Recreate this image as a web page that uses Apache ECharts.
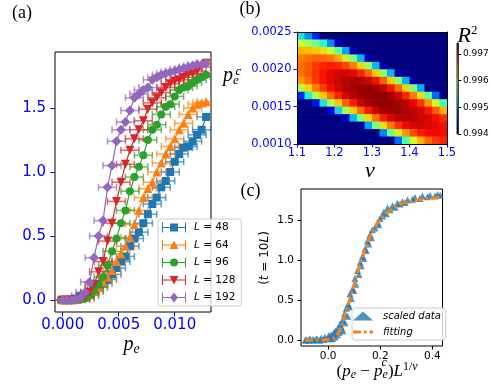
<!DOCTYPE html>
<html>
<head>
<meta charset="utf-8">
<script src="https://cdn.jsdelivr.net/npm/echarts@6/dist/echarts.min.js"></script>
<style>
  html, body { margin: 0; padding: 0; background: #fff; }
  #main { width: 491px; height: 384px; }
</style>
</head>
<body>
<div id="main"></div>
<script>
// ---- panel (a): order parameter vs p_e for several L ----
var peVals = [0, 0.0004, 0.0008, 0.0012, 0.0016, 0.002, 0.0024, 0.0028, 0.0032, 0.0036, 0.004,
  0.0044, 0.0048, 0.0052, 0.0056, 0.006, 0.0064, 0.0068, 0.0072, 0.0076, 0.008, 0.0084, 0.0088,
  0.0092, 0.0096, 0.01, 0.0104, 0.0108, 0.0112, 0.0116, 0.012, 0.0124, 0.0128];
var sizes = ['48', '64', '96', '128', '192'];
var valsL48 = [0, 0, 0.003, 0.01, 0.03, 0.04, 0.06, 0.08, 0.1, 0.13, 0.16, 0.2, 0.25, 0.3, 0.34, 0.42,
  0.48, 0.53, 0.6, 0.67, 0.75, 0.8, 0.88, 0.93, 1.0, 1.08, 1.14, 1.19, 1.2, 1.24, 1.29, 1.33, 1.43];
var valsL64 = [0, 0, 0, 0.003, 0.01, 0.02, 0.04, 0.07, 0.1, 0.14, 0.18, 0.23, 0.3, 0.36, 0.42, 0.49,
  0.59, 0.7, 0.8, 0.87, 0.92, 1.0, 1.07, 1.14, 1.2, 1.26, 1.33, 1.38, 1.45, 1.5, 1.53, 1.54, 1.55];
var valsL96 = [0, 0, 0, 0.002, 0.005, 0.013, 0.035, 0.07, 0.12, 0.18, 0.27, 0.38, 0.48, 0.6, 0.7, 0.85,
  0.96, 1.04, 1.13, 1.25, 1.33, 1.37, 1.45, 1.51, 1.53, 1.59, 1.64, 1.66, 1.67, 1.7, 1.72, 1.74, 1.76];
var valsL128 = [0, 0, 0, 0.003, 0.01, 0.03, 0.06, 0.12, 0.22, 0.3, 0.46, 0.6, 0.77, 0.92, 1.06, 1.17,
  1.26, 1.33, 1.4, 1.49, 1.54, 1.58, 1.62, 1.66, 1.69, 1.71, 1.72, 1.74, 1.76, 1.77, 1.79, 1.82, 1.85];
var valsL192 = [0, 0, 0, 0.005, 0.02, 0.06, 0.14, 0.33, 0.5, 0.62, 0.88, 1.05, 1.24, 1.33, 1.39, 1.48,
  1.58, 1.61, 1.64, 1.66, 1.72, 1.74, 1.76, 1.77, 1.78, 1.79, 1.8, 1.81, 1.82, 1.83, 1.84, 1.84, 1.85];
var xErr = 0.0008;

// ---- panel (b): R^2 over (nu, p_e^c) ----
var nuVals = [1.11, 1.13, 1.15, 1.17, 1.19, 1.21, 1.23, 1.25, 1.27, 1.29, 1.31, 1.33, 1.35, 1.37, 1.39,
  1.41, 1.43, 1.45, 1.47, 1.49];
var pcVals = [0.00245, 0.00235, 0.00225, 0.00215, 0.00205, 0.00195, 0.00185, 0.00175, 0.00165,
  0.00155, 0.00145, 0.00135, 0.00125, 0.00115, 0.00105];
var r2Grid = [
  [0.99523, 0.99491, 0.99449, 0.9939, 0.9935, 0.9935, 0.9935, 0.9935, 0.9935, 0.9935, 0.9935, 0.9935, 0.9935, 0.9935, 0.9935, 0.9935, 0.9935, 0.9935, 0.9935, 0.9935],
  [0.996, 0.99586, 0.99565, 0.99535, 0.9949, 0.99413, 0.9935, 0.9935, 0.9935, 0.9935, 0.9935, 0.9935, 0.9935, 0.9935, 0.9935, 0.9935, 0.9935, 0.9935, 0.9935, 0.9935],
  [0.99644, 0.99642, 0.99637, 0.99624, 0.99602, 0.99559, 0.99497, 0.99414, 0.9935, 0.9935, 0.9935, 0.9935, 0.9935, 0.9935, 0.9935, 0.9935, 0.9935, 0.9935, 0.9935, 0.9935],
  [0.99664, 0.9967, 0.99675, 0.99674, 0.99668, 0.99649, 0.99617, 0.9957, 0.99503, 0.99413, 0.9935, 0.9935, 0.9935, 0.9935, 0.9935, 0.9935, 0.9935, 0.9935, 0.9935, 0.9935],
  [0.9967, 0.99679, 0.99689, 0.99697, 0.997, 0.99697, 0.99685, 0.99664, 0.99629, 0.99578, 0.99506, 0.99413, 0.9935, 0.9935, 0.9935, 0.9935, 0.9935, 0.9935, 0.9935, 0.9935],
  [0.9967, 0.9968, 0.99692, 0.99703, 0.99711, 0.99717, 0.99717, 0.99711, 0.99698, 0.99674, 0.99634, 0.99579, 0.99505, 0.99412, 0.9935, 0.9935, 0.9935, 0.9935, 0.9935, 0.9935],
  [0.99654, 0.99672, 0.99689, 0.99702, 0.99712, 0.9972, 0.99726, 0.99728, 0.99727, 0.9972, 0.99704, 0.99676, 0.99634, 0.99576, 0.99502, 0.99411, 0.9935, 0.9935, 0.9935, 0.9935],
  [0.99592, 0.99632, 0.99664, 0.99689, 0.99706, 0.99718, 0.99726, 0.9973, 0.99734, 0.99735, 0.99731, 0.99722, 0.99702, 0.99672, 0.99629, 0.99573, 0.995, 0.9935, 0.9935, 0.9935],
  [0.99453, 0.9953, 0.9959, 0.99638, 0.99672, 0.99698, 0.99716, 0.99726, 0.99733, 0.99736, 0.99737, 0.99736, 0.9973, 0.99717, 0.99696, 0.99666, 0.99624, 0.99558, 0.99477, 0.9935],
  [0.9935, 0.9935, 0.99442, 0.99524, 0.99588, 0.99637, 0.99675, 0.997, 0.99719, 0.9973, 0.99735, 0.99737, 0.99735, 0.99731, 0.99723, 0.9971, 0.9969, 0.99655, 0.99609, 0.99546],
  [0.9935, 0.9935, 0.9935, 0.9935, 0.99431, 0.99516, 0.99583, 0.99634, 0.99673, 0.997, 0.99719, 0.9973, 0.99733, 0.99732, 0.99728, 0.99723, 0.99715, 0.99701, 0.99679, 0.99645],
  [0.9935, 0.9935, 0.9935, 0.9935, 0.9935, 0.9935, 0.9942, 0.99506, 0.99575, 0.99628, 0.9967, 0.99699, 0.99716, 0.99725, 0.99726, 0.99724, 0.9972, 0.99714, 0.99705, 0.99691],
  [0.9935, 0.9935, 0.9935, 0.9935, 0.9935, 0.9935, 0.9935, 0.9935, 0.99408, 0.99496, 0.99568, 0.99624, 0.99665, 0.99692, 0.99708, 0.99716, 0.99718, 0.99715, 0.9971, 0.99704],
  [0.9935, 0.9935, 0.9935, 0.9935, 0.9935, 0.9935, 0.9935, 0.9935, 0.9935, 0.9935, 0.9939, 0.99487, 0.9956, 0.99616, 0.99656, 0.99683, 0.997, 0.99707, 0.99708, 0.99705],
  [0.9935, 0.9935, 0.9935, 0.9935, 0.9935, 0.9935, 0.9935, 0.9935, 0.9935, 0.9935, 0.9935, 0.9935, 0.9938, 0.99477, 0.9955, 0.99606, 0.99646, 0.99673, 0.99689, 0.99697]
];
var nuStep = 0.02, pcStep = 0.0001;
var r2Min = 0.994, r2Max = 0.99741;
var jet = ['#000080', '#0000f3', '#004cff', '#00b3ff', '#29ffce', '#7cff7b', '#ceff29', '#ffc600', '#ff6800', '#f30900', '#800000'];

// ---- panel (c): data collapse ----
var scaledX = [-0.088, -0.083, -0.074, -0.069, -0.059, -0.055, -0.045, -0.04, -0.031, -0.026, -0.016, -0.012,
  -0.002, 0.003, 0.008, 0.012, 0.017, 0.022, 0.027, 0.029, 0.036, 0.038, 0.044, 0.046, 0.051, 0.055, 0.057,
  0.063, 0.065, 0.07, 0.075, 0.077, 0.082, 0.084, 0.089, 0.094, 0.099, 0.103, 0.106, 0.113, 0.118, 0.123,
  0.127, 0.132, 0.137, 0.142, 0.146, 0.151, 0.156, 0.161, 0.166, 0.17, 0.18, 0.19, 0.194, 0.199, 0.209,
  0.214, 0.223, 0.228, 0.238, 0.247, 0.257, 0.266, 0.276, 0.285, 0.295, 0.305, 0.324, 0.333, 0.352, 0.362,
  0.381, 0.391, 0.41, 0.42, 0.43];
var scaledY = [0, 0.01, 0, 0.02, 0.01, 0, 0.02, 0.01, 0, 0.03, 0.01, 0.04,
  0.02, 0.06, 0.03, 0.07, 0.02, 0.09, 0.04, 0.12, 0.07, 0.15, 0.1, 0.2, 0.16, 0.25, 0.12,
  0.33, 0.22, 0.4, 0.3, 0.45, 0.42, 0.58, 0.52, 0.64, 0.62, 0.77, 0.7, 0.87, 0.82, 0.97,
  0.93, 1.05, 1.02, 1.14, 1.12, 1.24, 1.2, 1.32, 1.28, 1.38, 1.4, 1.47, 1.44, 1.52, 1.55,
  1.6, 1.58, 1.65, 1.63, 1.68, 1.66, 1.71, 1.7, 1.73, 1.72, 1.75, 1.76, 1.78, 1.77, 1.8,
  1.79, 1.81, 1.8, 1.82, 1.81];
var fitX = [-0.088, -0.05, -0.002, 0.027, 0.046, 0.065, 0.084, 0.103, 0.123, 0.142, 0.161, 0.18, 0.199,
  0.228, 0.257, 0.285, 0.324, 0.362, 0.4, 0.429];
var fitY = [0, 0, 0.01, 0.04, 0.13, 0.32, 0.52, 0.73, 0.94, 1.13, 1.29, 1.41, 1.5, 1.6, 1.66, 1.71, 1.74,
  1.76, 1.775, 1.785];

// tick labels
var ticksAx = [0, 0.005, 0.01], ticksAy = [0, 0.5, 1, 1.5];
var ticksBx = [1.1, 1.2, 1.3, 1.4, 1.5], ticksBy = [0.001, 0.0015, 0.002, 0.0025];
var ticksCb = [0.994, 0.995, 0.996, 0.997];
var ticksCx = [0, 0.2, 0.4], ticksCy = [0, 0.5, 1, 1.5];

var colorsA = ['#1f77b4', '#ff7f0e', '#2ca02c', '#d62728', '#9467bd'];
var curves = [valsL48, valsL64, valsL96, valsL128, valsL192];
var marks = ['rect', 'triangle', 'circle', 'triangle', 'diamond'];
var markRot = [0, 0, 0, 180, 0];
var markSize = [8, 9, 8, 9, 10];
var bar = 'M0 4.5H24V5.5H0Z M0 0H1V10H0Z M23 0H24V10H23Z ';
var legendIcons = [
  'path://' + bar + 'M8 1H16V9H8Z',
  'path://' + bar + 'M12 0.5L16.5 9L7.5 9Z',
  'path://' + bar + 'M16 5A4 4 0 1 1 8 5A4 4 0 1 1 16 5Z',
  'path://' + bar + 'M7.5 1L16.5 1L12 9.5Z',
  'path://' + bar + 'M12 0L16 5L12 10L8 5Z'
];
var serif = 'Liberation Serif';
var sans = 'DejaVu Sans';

function errorBar(params, api) {
  var x = api.value(0), y = api.value(1);
  var a = api.coord([x - xErr, y]);
  var b = api.coord([x + xErr, y]);
  var st = { stroke: api.visual('color'), lineWidth: 1.5, opacity: 0.7 };
  return { type: 'group', children: [
    { type: 'line', shape: { x1: a[0], y1: a[1], x2: b[0], y2: b[1] }, style: st },
    { type: 'line', shape: { x1: a[0], y1: a[1] - 3.5, x2: a[0], y2: a[1] + 3.5 }, style: st },
    { type: 'line', shape: { x1: b[0], y1: b[1] - 3.5, x2: b[0], y2: b[1] + 3.5 }, style: st }
  ] };
}

function heatCell(params, api) {
  var nu = api.value(0), p = api.value(1);
  var a = api.coord([nu - nuStep / 2, p + pcStep / 2]);
  var b = api.coord([nu + nuStep / 2, p - pcStep / 2]);
  return { type: 'rect', shape: { x: a[0], y: a[1], width: b[0] - a[0] + 0.6, height: b[1] - a[1] + 0.6 },
    style: { fill: api.visual('color') } };
}

function colorBar(params, api) {
  var a = api.coord([0, api.value(0)]);
  var b = api.coord([1, api.value(1)]);
  var stops = jet.map(function (c, i) { return { offset: i / (jet.length - 1), color: c }; });
  return { type: 'rect', shape: { x: a[0], y: b[1], width: b[0] - a[0], height: a[1] - b[1] },
    style: { fill: new echarts.graphic.LinearGradient(0, 1, 0, 0, stops), stroke: '#000', lineWidth: 0.8 } };
}

function valAxis(grid, min, max, ticks, digits, o) {
  return Object.assign({
    gridIndex: grid, type: 'value', min: min, max: max,
    splitLine: { show: false },
    axisLine: { show: false, onZero: false },
    axisTick: { customValues: ticks, length: o.tick, lineStyle: { color: o.color } },
    axisLabel: { customValues: ticks, formatter: function (v) { return v.toFixed(digits); },
      color: o.color, fontSize: o.size, fontFamily: sans, margin: o.margin }
  }, o.extra || {});
}

function frameAxis(grid, min, max, pos) {
  return { gridIndex: grid, type: 'value', min: min, max: max, position: pos, z: 10,
    axisLine: { show: true, onZero: false, lineStyle: { color: '#000', width: 1 } },
    axisTick: { show: false }, axisLabel: { show: false }, splitLine: { show: false } };
}

var series = [];
sizes.forEach(function (L, i) {
  var data = peVals.map(function (p, k) { return [p, curves[i][k]]; });
  series.push({ type: 'custom', name: 'err' + L, xAxisIndex: 0, yAxisIndex: 0, data: data,
    renderItem: errorBar, itemStyle: { color: colorsA[i] }, clip: true, silent: true });
  series.push({ type: 'line', name: L, xAxisIndex: 0, yAxisIndex: 0, data: data,
    symbol: marks[i], symbolRotate: markRot[i], symbolSize: markSize[i], showSymbol: true,
    lineStyle: { width: 1.2, color: colorsA[i] }, itemStyle: { color: colorsA[i] }, clip: true });
});

var heatData = [];
pcVals.forEach(function (p, r) {
  nuVals.forEach(function (nu, c) { heatData.push([nu, p, r2Grid[r][c]]); });
});
var heatIndex = series.length;
series.push({ type: 'custom', name: 'R2', xAxisIndex: 1, yAxisIndex: 1, data: heatData,
  renderItem: heatCell, clip: true, silent: true });
series.push({ type: 'custom', name: 'colorbar', xAxisIndex: 3, yAxisIndex: 3,
  data: [[r2Min, r2Max]], renderItem: colorBar, silent: true });

series.push({ type: 'scatter', name: 'scaled data', xAxisIndex: 4, yAxisIndex: 4,
  data: scaledX.map(function (x, i) { return [x, scaledY[i]]; }),
  symbol: 'triangle', symbolSize: 7, itemStyle: { color: '#1f77b4' } });
series.push({ type: 'line', name: 'fitting', xAxisIndex: 4, yAxisIndex: 4,
  data: fitX.map(function (x, i) { return [x, fitY[i]]; }),
  smooth: 0.4, showSymbol: false, symbol: 'none',
  lineStyle: { width: 3, color: '#ff7f0e', type: [8, 3, 2.5, 3] }, itemStyle: { color: '#ff7f0e' } });

var blueA = { color: 'blue', size: 15, tick: 4.5 };
var blueB = { color: 'blue', size: 11.5, tick: 3.5 };
var blackC = { color: '#000', size: 10.5, tick: 3.5 };
var frameLine = { show: true, onZero: false, lineStyle: { color: '#000', width: 1 } };

var option = {
  animation: false,
  backgroundColor: '#fff',
  textStyle: { fontFamily: sans },
  grid: [
    { left: 55, top: 52, width: 156, height: 260, show: true, borderColor: '#000', borderWidth: 1 },
    { left: 297, top: 32, width: 150, height: 112 },
    { left: 457, top: 43, width: 5.5, height: 91 },
    { left: 301, top: 189, width: 141.5, height: 157, show: true, borderColor: '#000', borderWidth: 1 }
  ],
  xAxis: [
    valAxis(0, -0.00069, 0.01324, ticksAx, 3, Object.assign({ margin: 6 }, blueA)),
    valAxis(1, 1.1, 1.5, ticksBx, 1, Object.assign({ margin: 3.5, extra: { z: 10, axisLine: frameLine } }, blueB)),
    frameAxis(1, 1.1, 1.5, 'top'),
    { gridIndex: 2, type: 'value', min: 0, max: 1, show: false },
    valAxis(3, -0.1038, 0.4387, ticksCx, 1, Object.assign({ margin: 4.5 }, blackC))
  ],
  yAxis: [
    valAxis(0, -0.094, 1.9375, ticksAy, 1, Object.assign({ margin: 9 }, blueA)),
    valAxis(1, 0.001, 0.0025, ticksBy, 4, Object.assign({ margin: 5.5, extra: { z: 10, axisLine: frameLine } }, blueB)),
    frameAxis(1, 0.001, 0.0025, 'right'),
    valAxis(2, r2Min, r2Max, ticksCb, 3, { color: '#000', size: 9, tick: 3, margin: 4.5,
      extra: { position: 'right' } }),
    valAxis(3, -0.071, 1.8875, ticksCy, 1, Object.assign({ margin: 7 }, blackC))
  ],
  visualMap: {
    show: false, type: 'continuous', min: r2Min, max: r2Max, dimension: 2,
    seriesIndex: heatIndex, inRange: { color: jet }
  },
  legend: [
    {
      left: 158, top: 219, orient: 'vertical', itemWidth: 24, itemHeight: 10, itemGap: 6.5,
      padding: [3, 6, 3, 4], backgroundColor: 'rgba(255,255,255,0.8)',
      borderColor: '#ccc', borderWidth: 1, borderRadius: 3, selectedMode: false,
      textStyle: { fontFamily: sans, fontSize: 10.5, color: '#000', padding: [0, 0, 0, 3],
        rich: { i: { fontFamily: sans, fontSize: 10.5, fontStyle: 'italic', color: '#000' } } },
      formatter: function (n) { return '{i|L} = ' + n; },
      data: sizes.map(function (n, i) { return { name: n, icon: legendIcons[i] }; })
    },
    {
      left: 352, top: 308, orient: 'vertical', itemWidth: 20, itemHeight: 9, itemGap: 6,
      padding: [3, 5, 3, 1], backgroundColor: 'rgba(255,255,255,0.8)',
      borderColor: '#ccc', borderWidth: 1, borderRadius: 3, selectedMode: false,
      textStyle: { fontFamily: sans, fontSize: 10, fontStyle: 'italic', color: '#000', padding: [0, 0, 0, 5] },
      data: [
        { name: 'scaled data', icon: 'triangle' },
        { name: 'fitting', icon: 'path://M0 0H8V3H0Z M11 0H13.5V3H11Z M16.5 0H20V3H16.5Z' }
      ]
    }
  ],
  graphic: [
    { type: 'text', x: 12, y: 13.3, style: { text: '(a)', fontFamily: serif, fontSize: 18, fill: '#000', verticalAlign: 'middle' } },
    { type: 'text', x: 239.5, y: 9.5, style: { text: '(b)', fontFamily: serif, fontSize: 18, fill: '#000', verticalAlign: 'middle' } },
    { type: 'text', x: 240.5, y: 191.5, style: { text: '(c)', fontFamily: serif, fontSize: 18, fill: '#000', verticalAlign: 'middle' } },
    // p_e under (a)
    { type: 'text', x: 123.5, y: 345, style: { text: '{n|p}{s|e}', fill: '#000', verticalAlign: 'middle',
      rich: { n: { fontFamily: serif, fontStyle: 'italic', fontSize: 20, lineHeight: 22, verticalAlign: 'middle' },
              s: { fontFamily: serif, fontStyle: 'italic', fontSize: 14, lineHeight: 8, verticalAlign: 'bottom' } } } },
    // p_e^c left of (b)
    { type: 'text', x: 223, y: 75.6, style: { text: '{n|p}{s|e}', fill: '#000', verticalAlign: 'middle',
      rich: { n: { fontFamily: serif, fontStyle: 'italic', fontSize: 20, lineHeight: 22, verticalAlign: 'middle' },
              s: { fontFamily: serif, fontStyle: 'italic', fontSize: 13, lineHeight: 7, verticalAlign: 'bottom' } } } },
    { type: 'text', x: 235.5, y: 72, style: { text: 'c', fontFamily: serif, fontStyle: 'italic', fontSize: 13, fill: '#000', verticalAlign: 'middle' } },
    // nu under (b)
    { type: 'text', x: 370, y: 171, style: { text: 'ν', fontFamily: serif, fontStyle: 'italic', fontSize: 22, fill: '#000', align: 'center', verticalAlign: 'middle' } },
    // R^2 over colorbar
    { type: 'text', x: 457.5, y: 36, style: { text: '{n|R}{s|2}', fill: '#000', verticalAlign: 'middle',
      rich: { n: { fontFamily: serif, fontStyle: 'italic', fontSize: 22, lineHeight: 24, verticalAlign: 'middle' },
              s: { fontFamily: serif, fontSize: 13, lineHeight: 14, verticalAlign: 'top' } } } },
    // x label of (c)
    { type: 'text', x: 336.5, y: 371.3, style: {
      text: '{u|(}{n|p}{b|e}{u| − }{n|p}{b|e}{u|)}{n|L}{t|1/}{ti|ν}', fill: '#000', verticalAlign: 'middle',
      rich: {
        u: { fontFamily: serif, fontSize: 17, lineHeight: 20, verticalAlign: 'middle' },
        n: { fontFamily: serif, fontStyle: 'italic', fontSize: 17, lineHeight: 20, verticalAlign: 'middle' },
        b: { fontFamily: serif, fontStyle: 'italic', fontSize: 12, lineHeight: 12.6, verticalAlign: 'bottom' },
        t: { fontFamily: serif, fontSize: 12, lineHeight: 15.2, verticalAlign: 'top' },
        ti: { fontFamily: serif, fontStyle: 'italic', fontSize: 12, lineHeight: 15.2, verticalAlign: 'top' }
      } } },
    { type: 'text', x: 381.5, y: 363, style: { text: 'c', fontFamily: serif, fontStyle: 'italic', fontSize: 12, fill: '#000', verticalAlign: 'middle' } },
    // y label of (c)
    { type: 'text', x: 265, y: 258, rotation: Math.PI / 2, style: {
      text: '{u|(}{i|t}{u| = 10}{i|L}{u|)}', fill: '#000', align: 'center', verticalAlign: 'middle',
      rich: { u: { fontFamily: sans, fontSize: 12 }, i: { fontFamily: sans, fontSize: 12, fontStyle: 'italic' } } } }
  ],
  series: series
};

var chart = echarts.init(document.getElementById('main'), null, { renderer: 'canvas' });
chart.setOption(option);
</script>
</body>
</html>
